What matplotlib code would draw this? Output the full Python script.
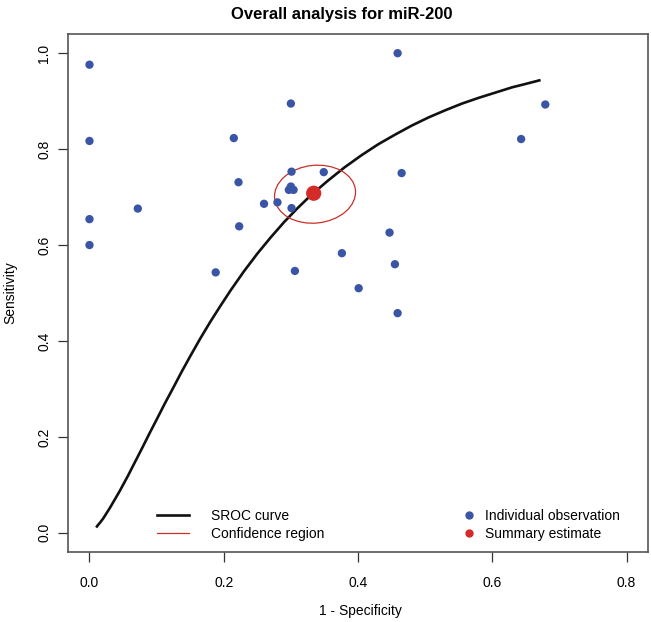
#!/usr/bin/env python3
"""SROC plot: overall analysis for miR-200"""

import matplotlib
matplotlib.use('Agg')
import matplotlib.pyplot as plt
from matplotlib.patches import Ellipse
from matplotlib.lines import Line2D
from matplotlib.transforms import Affine2D

plt.rcParams['font.family'] = ['Liberation Sans', 'DejaVu Sans']

# individual studies (1 - specificity, sensitivity)
obs_fpr = [0.000, 0.000, 0.000, 0.000, 0.072, 0.188, 0.215, 0.222, 0.223,
           0.260, 0.280, 0.297, 0.300, 0.304, 0.301, 0.300, 0.301, 0.306,
           0.349, 0.376, 0.401, 0.447, 0.455, 0.459, 0.459, 0.465, 0.643, 0.679]
obs_sens = [0.976, 0.817, 0.654, 0.600, 0.676, 0.543, 0.823, 0.731, 0.639,
            0.686, 0.689, 0.715, 0.722, 0.715, 0.677, 0.895, 0.753, 0.546,
            0.752, 0.583, 0.510, 0.626, 0.560, 0.458, 1.000, 0.750, 0.821, 0.893]

# summary estimate
summary_fpr = 0.334
summary_sens = 0.708

# SROC curve read along its length
curve_fpr = [0.010, 0.0125, 0.015, 0.020, 0.025, 0.030, 0.035, 0.040, 0.045,
             0.050, 0.057, 0.065, 0.072, 0.080, 0.090, 0.100, 0.112, 0.125,
             0.137, 0.150, 0.165, 0.180, 0.195, 0.210, 0.230, 0.250, 0.270,
             0.290, 0.310, 0.330, 0.355, 0.380, 0.405, 0.430, 0.455, 0.480,
             0.505, 0.530, 0.555, 0.580, 0.605, 0.630, 0.650, 0.672]
curve_sens = [0.011, 0.016, 0.020, 0.029, 0.040, 0.051, 0.063, 0.075, 0.087,
              0.100, 0.118, 0.140, 0.159, 0.181, 0.209, 0.236, 0.269, 0.303,
              0.335, 0.368, 0.405, 0.440, 0.473, 0.505, 0.545, 0.582, 0.616,
              0.648, 0.677, 0.704, 0.734, 0.762, 0.787, 0.810, 0.830, 0.849,
              0.866, 0.881, 0.895, 0.907, 0.918, 0.929, 0.936, 0.944]

# confidence region (centre, axes in x-units, tilt)
ell_center = (0.336, 0.706)
ell_width = 0.121
ell_height = 0.086
ell_angle = 6

x_ticks = [0.0, 0.2, 0.4, 0.6, 0.8]
y_ticks = [0.0, 0.2, 0.4, 0.6, 0.8, 1.0]

BLUE = '#3a55a5'
RED = '#d42a2a'

W, H = 651, 622
fig = plt.figure(figsize=(W / 100, H / 100), dpi=100)
ax = fig.add_axes([68 / W, (H - 552) / H, 580 / W, 518 / H])

ax.plot(curve_fpr, curve_sens, color='#111111', linewidth=1.9,
        solid_capstyle='butt', solid_joinstyle='round', zorder=2)

# y is stretched so the ellipse is defined in equal pixel-like units
aspect = 672 / 480
ell = Ellipse((ell_center[0], ell_center[1] / aspect), ell_width, ell_height,
              angle=ell_angle, fill=False, edgecolor='#c8302a', linewidth=0.9,
              transform=Affine2D().scale(1, aspect) + ax.transData, zorder=3)
ax.add_patch(ell)

ax.scatter(obs_fpr, obs_sens, s=36, color=BLUE, edgecolors='none', zorder=4)
ax.scatter([summary_fpr], [summary_sens], s=120, color=RED,
           edgecolors='none', zorder=5)

ax.set_xlim(-0.032, 0.832)
ax.set_ylim(-0.04, 1.04)
ax.set_xticks(x_ticks)
ax.set_yticks(y_ticks)
ax.set_xticklabels([f'{t:.1f}' for t in x_ticks])
ax.set_yticklabels([f'{t:.1f}' for t in y_ticks], rotation=90, va='center')
ax.tick_params(direction='out', length=7, width=0.9, color='#333333',
               labelsize=10)
ax.tick_params(axis='x', pad=10)
ax.tick_params(axis='y', pad=5)
for sp in ax.spines.values():
    sp.set_color('#555555')
    sp.set_linewidth(1.2)

fig.text(342 / W, 1 - 15 / H, 'Overall analysis for miR-200',
         ha='center', va='center', fontsize=12, fontweight='bold')
fig.text(360 / W, 1 - 611 / H, '1 - Specificity', ha='center', va='center',
         fontsize=10)
fig.text(10 / W, 1 - 293 / H, 'Sensitivity', ha='center', va='center',
         rotation=90, fontsize=10)

line_handles = [Line2D([], [], color='#111111', linewidth=1.9),
                Line2D([], [], color='#c8302a', linewidth=0.9)]
leg1 = ax.legend(line_handles, ['SROC curve', 'Confidence region'],
                 loc='center left', bbox_to_anchor=(150 / W, 1 - 525 / H),
                 bbox_transform=fig.transFigure, frameon=False, fontsize=10,
                 handlelength=2.3, handletextpad=1.6, labelspacing=0.3,
                 borderpad=0)
ax.add_artist(leg1)

pt_handles = [Line2D([], [], linestyle='none', marker='o', markersize=6,
                     markerfacecolor=BLUE, markeredgecolor='none'),
              Line2D([], [], linestyle='none', marker='o', markersize=6,
                     markerfacecolor=RED, markeredgecolor='none')]
ax.legend(pt_handles, ['Individual observation', 'Summary estimate'],
          loc='center left', bbox_to_anchor=(452 / W, 1 - 525 / H),
          bbox_transform=fig.transFigure, frameon=False, fontsize=10,
          handlelength=1.4, handletextpad=0.5, labelspacing=0.3,
          borderpad=0)

fig.savefig('out.png', dpi=100)
